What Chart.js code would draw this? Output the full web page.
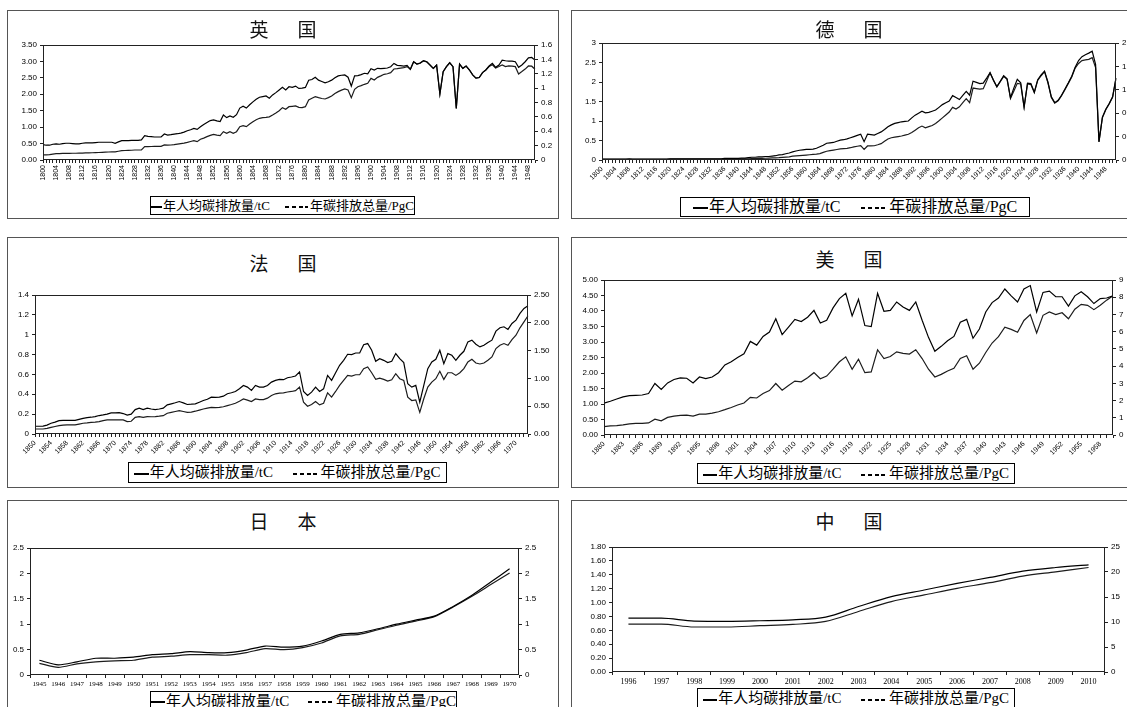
<!DOCTYPE html>
<html>
<head>
<meta charset="utf-8">
<script src="https://cdn.jsdelivr.net/npm/chart.js@4/dist/chart.umd.min.js"></script>
<style>
  html, body { margin: 0; padding: 0; background: #fff; width: 1127px; height: 707px; overflow: hidden; position: relative; }
  .panel { position: absolute; border: 1px solid #555; box-sizing: border-box; background: #fff; }
  .title { position: absolute; transform: translate(-50%, -50%); font-family: "Noto Sans CJK SC", sans-serif; color: #111; white-space: nowrap; letter-spacing: 5px; text-indent: 5px; line-height: 1; }
  .legend { position: absolute; border: 1px solid #000; background: #fff; box-sizing: border-box; display: flex; align-items: center; justify-content: center; white-space: nowrap; font-family: "Liberation Serif", "Noto Sans CJK SC", serif; color: #000; line-height: 1; }
  .legend .ls { display: inline-block; width: 0.95em; height: 2px; background: #000; margin-right: 1px; position: relative; top: 1px; }
  .legend .ld { display: inline-block; width: 26px; height: 2px; margin-right: 2px; position: relative; top: 1px;
                background: repeating-linear-gradient(90deg, #000 0, #000 4px, transparent 4px, transparent 6.8px); }
  .legend .gap { display: inline-block; width: 1.3em; }
  canvas { position: absolute; }
</style>
</head>
<body>
<script>
// ---- series labels ----
const perCapitaLabel = '年人均碳排放量/tC';
const totalLabel = '年碳排放总量/PgC';

function yearsFrom(start, end) {
  const out = [];
  for (let y = start; y <= end; y++) out.push(String(y));
  return out;
}

// ---- 英国 1800–1950 ----
const ukYears = yearsFrom(1800, 1950);
const ukPerCapita = [
  0.47,0.45,0.45,0.48,0.49,0.48,0.50,0.51,0.51,0.50,
  0.49,0.49,0.51,0.52,0.52,0.52,0.53,0.54,0.54,0.54,
  0.54,0.54,0.51,0.55,0.59,0.59,0.59,0.60,0.60,0.60,
  0.61,0.74,0.72,0.71,0.70,0.70,0.70,0.79,0.76,0.77,
  0.79,0.80,0.82,0.85,0.89,0.92,0.96,0.93,1.01,1.08,
  1.14,1.20,1.22,1.19,1.17,1.37,1.29,1.34,1.30,1.38,
  1.58,1.64,1.58,1.68,1.77,1.85,1.91,1.93,1.95,1.88,
  1.98,2.05,2.13,2.21,2.13,2.23,2.21,2.25,2.18,2.19,
  2.21,2.43,2.45,2.52,2.43,2.39,2.35,2.38,2.43,2.50,
  2.56,2.58,2.59,2.52,2.25,2.56,2.57,2.60,2.64,2.62,
  2.78,2.74,2.79,2.78,2.79,2.80,2.84,2.94,2.88,2.87,
  2.86,2.88,2.76,2.99,2.92,2.95,3.02,2.99,2.89,2.79,
  2.89,2.01,2.69,2.84,2.96,2.84,1.57,2.92,2.79,2.86,
  2.74,2.59,2.49,2.51,2.66,2.74,2.86,2.94,2.82,2.89,
  3.04,3.02,3.01,3.01,2.99,2.82,2.89,2.99,3.11,3.12,
  3.04
];
const ukTotal = [
  0.070,0.072,0.074,0.082,0.088,0.090,0.091,0.092,0.093,0.094,
  0.094,0.095,0.097,0.099,0.100,0.101,0.102,0.104,0.107,0.109,
  0.111,0.113,0.114,0.122,0.130,0.132,0.134,0.136,0.139,0.139,
  0.140,0.186,0.187,0.188,0.189,0.190,0.190,0.209,0.206,0.209,
  0.213,0.220,0.228,0.236,0.246,0.258,0.269,0.255,0.288,0.305,
  0.325,0.343,0.357,0.345,0.339,0.394,0.371,0.394,0.371,0.394,
  0.464,0.478,0.464,0.500,0.533,0.560,0.580,0.590,0.594,0.600,
  0.626,0.655,0.686,0.728,0.705,0.742,0.747,0.752,0.733,0.730,
  0.742,0.835,0.860,0.881,0.867,0.856,0.849,0.868,0.891,0.925,
  0.951,0.972,0.988,0.974,0.867,0.983,1.020,1.035,1.053,1.067,
  1.136,1.113,1.150,1.170,1.192,1.200,1.215,1.266,1.271,1.278,
  1.285,1.299,1.262,1.366,1.334,1.348,1.380,1.366,1.320,1.275,
  1.320,0.918,1.229,1.298,1.353,1.298,0.717,1.334,1.275,1.307,
  1.252,1.184,1.138,1.147,1.216,1.252,1.300,1.325,1.280,1.300,
  1.322,1.299,1.310,1.305,1.299,1.197,1.230,1.265,1.308,1.305,
  1.262
];

// ---- 德国 1800–1951 ----
const deYears = yearsFrom(1800, 1951);
const dePerCapita = [
  0.02,0.02,0.02,0.02,0.02,0.02,0.02,0.02,0.03,0.02,
  0.02,0.02,0.02,0.02,0.02,0.02,0.02,0.02,0.02,0.02,
  0.03,0.03,0.03,0.03,0.03,0.03,0.03,0.03,0.03,0.03,
  0.03,0.03,0.03,0.03,0.03,0.03,0.04,0.04,0.04,0.04,
  0.04,0.05,0.05,0.06,0.07,0.07,0.08,0.08,0.09,0.09,
  0.10,0.11,0.13,0.14,0.16,0.18,0.21,0.23,0.25,0.26,
  0.27,0.27,0.28,0.30,0.34,0.38,0.43,0.44,0.45,0.48,
  0.51,0.52,0.54,0.57,0.60,0.63,0.66,0.47,0.66,0.65,
  0.64,0.68,0.72,0.78,0.85,0.90,0.94,0.96,0.98,0.99,
  1.00,1.08,1.15,1.20,1.25,1.21,1.22,1.25,1.28,1.35,
  1.42,1.47,1.51,1.65,1.60,1.55,1.66,1.76,1.66,2.02,
  1.99,1.96,1.97,2.10,2.24,2.05,1.88,2.02,2.16,2.08,
  1.60,1.85,2.07,1.98,1.36,1.97,1.96,1.74,2.06,2.18,
  2.28,2.00,1.62,1.47,1.53,1.66,1.82,1.98,2.15,2.38,
  2.55,2.65,2.70,2.74,2.79,2.45,0.47,1.10,1.30,1.45,
  1.62,2.10
];
const deTotal = [
  0.010,0.010,0.010,0.010,0.010,0.010,0.010,0.010,0.010,0.010,
  0.010,0.010,0.010,0.010,0.010,0.010,0.010,0.010,0.012,0.012,
  0.015,0.015,0.015,0.015,0.015,0.015,0.015,0.015,0.015,0.015,
  0.015,0.015,0.015,0.015,0.016,0.016,0.017,0.017,0.018,0.018,
  0.018,0.020,0.020,0.021,0.023,0.025,0.027,0.029,0.030,0.033,
  0.035,0.038,0.040,0.045,0.050,0.055,0.065,0.070,0.075,0.080,
  0.085,0.090,0.095,0.100,0.110,0.130,0.150,0.160,0.170,0.180,
  0.190,0.195,0.200,0.210,0.225,0.235,0.245,0.180,0.240,0.240,
  0.244,0.260,0.280,0.320,0.360,0.380,0.390,0.400,0.410,0.425,
  0.440,0.470,0.510,0.550,0.580,0.550,0.570,0.590,0.625,0.670,
  0.720,0.770,0.820,0.900,0.870,0.910,0.980,1.050,0.980,1.230,
  1.220,1.210,1.220,1.350,1.490,1.360,1.250,1.340,1.430,1.380,
  1.050,1.180,1.310,1.300,0.900,1.300,1.290,1.150,1.360,1.440,
  1.510,1.320,1.070,0.970,1.010,1.100,1.200,1.310,1.420,1.570,
  1.650,1.700,1.710,1.720,1.750,1.580,0.310,0.720,0.860,0.960,
  1.070,1.400
];

// ---- 法国 1850–1973 ----
const frYears = yearsFrom(1850, 1973);
const frPerCapita = [
  0.078,0.078,0.080,0.090,0.108,0.120,0.135,0.138,0.138,0.138,
  0.138,0.148,0.158,0.165,0.169,0.175,0.186,0.192,0.200,0.213,
  0.213,0.215,0.206,0.190,0.200,0.246,0.260,0.246,0.260,0.252,
  0.246,0.252,0.260,0.293,0.304,0.315,0.327,0.314,0.297,0.300,
  0.304,0.320,0.337,0.350,0.371,0.368,0.371,0.381,0.405,0.415,
  0.428,0.455,0.489,0.472,0.439,0.489,0.472,0.472,0.489,0.523,
  0.540,0.550,0.547,0.567,0.574,0.584,0.625,0.428,0.388,0.422,
  0.472,0.428,0.455,0.590,0.540,0.617,0.692,0.742,0.803,0.800,
  0.816,0.816,0.900,0.911,0.843,0.732,0.759,0.742,0.719,0.732,
  0.810,0.759,0.719,0.506,0.472,0.489,0.320,0.489,0.658,0.725,
  0.752,0.843,0.708,0.810,0.793,0.742,0.793,0.833,0.928,0.945,
  0.904,0.877,0.894,0.921,0.945,1.036,1.070,1.080,1.053,1.113,
  1.147,1.215,1.265,1.292
];
const frTotal = [
  0.090,0.090,0.090,0.100,0.120,0.135,0.150,0.160,0.163,0.163,
  0.163,0.178,0.193,0.200,0.210,0.215,0.223,0.240,0.253,0.255,
  0.253,0.255,0.253,0.223,0.229,0.300,0.313,0.300,0.313,0.310,
  0.313,0.320,0.330,0.373,0.390,0.405,0.420,0.405,0.390,0.395,
  0.410,0.430,0.450,0.465,0.480,0.475,0.480,0.490,0.510,0.530,
  0.554,0.590,0.630,0.610,0.584,0.630,0.620,0.620,0.645,0.693,
  0.723,0.735,0.741,0.755,0.765,0.780,0.843,0.572,0.500,0.530,
  0.584,0.524,0.554,0.741,0.663,0.765,0.873,0.964,1.054,1.042,
  1.066,1.066,1.175,1.205,1.102,0.982,1.006,0.982,0.952,0.976,
  1.084,0.994,0.964,0.663,0.602,0.614,0.390,0.633,0.843,0.934,
  0.994,1.127,0.982,1.102,1.102,1.054,1.102,1.175,1.295,1.343,
  1.277,1.259,1.277,1.325,1.386,1.536,1.596,1.627,1.596,1.699,
  1.777,1.910,2.018,2.127
];

// ---- 美国 1880–1960 ----
const usYears = yearsFrom(1880, 1960);
const usPerCapita = [
  1.03,1.09,1.16,1.23,1.27,1.28,1.29,1.34,1.66,1.47,
  1.68,1.79,1.84,1.83,1.68,1.87,1.82,1.87,2.01,2.26,
  2.36,2.50,2.62,3.02,2.90,3.18,3.32,3.75,3.24,3.48,
  3.73,3.66,3.80,4.02,3.61,3.70,4.10,4.40,4.57,3.84,
  4.38,3.53,3.50,4.57,3.99,4.02,4.29,4.13,4.02,4.29,
  3.70,3.15,2.70,2.86,3.04,3.18,3.64,3.73,3.12,3.42,
  3.97,4.27,4.42,4.71,4.49,4.29,4.71,4.82,3.97,4.60,
  4.64,4.46,4.46,4.16,4.49,4.62,4.46,4.24,4.40,4.42,
  4.49
];
const usTotal = [
  0.49,0.53,0.55,0.59,0.65,0.67,0.67,0.70,0.92,0.82,
  1.02,1.10,1.14,1.15,1.10,1.21,1.21,1.27,1.35,1.47,
  1.60,1.74,1.86,2.19,2.15,2.41,2.58,2.99,2.60,2.88,
  3.13,3.09,3.33,3.62,3.27,3.42,3.82,4.25,4.54,3.82,
  4.40,3.62,3.66,4.95,4.44,4.56,4.83,4.74,4.70,4.95,
  4.44,3.82,3.37,3.52,3.72,3.87,4.44,4.60,3.82,4.17,
  4.79,5.34,5.71,6.26,6.13,5.97,6.65,6.99,5.93,6.95,
  7.14,6.99,7.10,6.75,7.30,7.59,7.53,7.28,7.53,7.83,
  8.08
];

// ---- 日本 1945–1970 ----
const jpYears = yearsFrom(1945, 1970);
const jpPerCapita = [0.29,0.20,0.26,0.33,0.33,0.35,0.40,0.42,0.46,0.44,0.44,0.49,0.57,0.55,0.57,0.67,0.80,0.83,0.91,1.00,1.08,1.16,1.35,1.57,1.83,2.09];
const jpTotal     = [0.23,0.15,0.22,0.26,0.28,0.29,0.35,0.37,0.40,0.40,0.39,0.44,0.52,0.50,0.54,0.63,0.77,0.80,0.89,0.98,1.06,1.15,1.34,1.55,1.78,2.01];

// ---- 中国 1996–2010 ----
const cnYears = yearsFrom(1996, 2010);
const cnPerCapita = [0.776,0.776,0.733,0.729,0.738,0.752,0.790,0.943,1.086,1.181,1.276,1.362,1.452,1.505,1.543];
const cnTotal     = [9.59,9.59,9.00,9.00,9.26,9.52,10.12,12.10,14.09,15.41,16.73,17.86,19.18,20.04,20.90];

// ---- tick formats ----
const fixed2 = v => Number(v).toFixed(2);
const general = v => String(Math.round(Number(v) * 100) / 100);

// ---- panel layout ----
const sansTick = { family: 'Liberation Sans', size: 8 };
const sansTickSmall = { family: 'Liberation Sans', size: 7 };
const serifTick = { family: 'Liberation Serif', size: 8 };

const panels = [
  { title: '英　国', box: [7, 10, 552, 209], plot: [43, 45, 535, 160], titleAt: [283, 28, 19],
    years: ukYears, perCapita: ukPerCapita, total: ukTotal,
    left: { max: 3.5, step: 0.5, fmt: fixed2 }, right: { max: 1.6, step: 0.2, fmt: general },
    xEvery: 4, rot: 90, xFont: sansTickSmall, offset: false, tension: 0,
    legend: [150, 196, 265, 19, 13] },
  { title: '德　国', box: [571, 10, 570, 209], plot: [602, 43, 1116, 160], titleAt: [849, 28, 19],
    years: deYears, perCapita: dePerCapita, total: deTotal,
    left: { max: 3, step: 0.5, fmt: general }, right: { max: 2, step: 0.2, fmt: general },
    xEvery: 4, rot: 45, xFont: sansTickSmall, offset: false, tension: 0,
    legend: [680, 197, 350, 20, 16] },
  { title: '法　国', box: [7, 237, 552, 251], plot: [35, 295, 528, 434], titleAt: [283, 262, 19],
    years: frYears, perCapita: frPerCapita, total: frTotal,
    left: { max: 1.4, step: 0.2, fmt: general }, right: { max: 2.5, step: 0.5, fmt: fixed2 },
    xEvery: 4, rot: 45, xFont: sansTickSmall, offset: false, tension: 0,
    legend: [128, 462, 319, 21, 15] },
  { title: '美　国', box: [571, 237, 570, 251], plot: [604, 280, 1113, 435], titleAt: [849, 258, 19],
    years: usYears, perCapita: usPerCapita, total: usTotal,
    left: { max: 5, step: 0.5, fmt: fixed2 }, right: { max: 9, step: 1, fmt: general },
    xEvery: 3, rot: 45, xFont: sansTickSmall, offset: false, tension: 0,
    legend: [697, 463, 318, 21, 15] },
  { title: '日　本', box: [7, 500, 552, 220], plot: [30, 548, 519, 675], titleAt: [283, 520, 19],
    years: jpYears, perCapita: jpPerCapita, total: jpTotal,
    left: { max: 2.5, step: 0.5, fmt: general }, right: { max: 2.5, step: 0.5, fmt: general },
    xEvery: 1, rot: 0, xFont: { family: 'Liberation Serif', size: 7 }, offset: true, tension: 0.25,
    legend: [150, 691, 307, 20, 15] },
  { title: '中　国', box: [571, 500, 570, 220], plot: [612, 547, 1105, 672], titleAt: [849, 520, 19],
    years: cnYears, perCapita: cnPerCapita, total: cnTotal,
    left: { max: 1.8, step: 0.2, fmt: fixed2 }, right: { max: 25, step: 5, fmt: general },
    xEvery: 1, rot: 0, xFont: serifTick, offset: true, tension: 0.4,
    legend: [697, 688, 318, 21, 15] }
];

// frame around each plot area
const plotFrame = {
  id: 'plotFrame',
  afterDraw(chart) {
    const a = chart.chartArea, ctx = chart.ctx;
    ctx.save();
    ctx.strokeStyle = '#222';
    ctx.lineWidth = 1;
    ctx.strokeRect(Math.round(a.left) + 0.5, Math.round(a.top) + 0.5,
                   Math.round(a.right - a.left) - 1, Math.round(a.bottom - a.top) - 1);
    ctx.restore();
  }
};

function el(tag, cls, css, html) {
  const e = document.createElement(tag);
  if (cls) e.className = cls;
  if (css) e.style.cssText = css;
  if (html !== undefined) e.innerHTML = html;
  document.body.appendChild(e);
  return e;
}

function yScale(pos, spec, width) {
  return {
    position: pos, min: 0, max: spec.max,
    ticks: { stepSize: spec.step, callback: v => spec.fmt(v), font: sansTick, color: '#000', padding: 3 },
    grid: { drawOnChartArea: false, drawTicks: true, tickLength: 3, color: '#222' },
    border: { display: false },
    afterFit(s) { s.width = width; }
  };
}

function buildPanel(p) {
  const [bx, by, bw, bh] = p.box;
  el('div', 'panel', `left:${bx}px;top:${by}px;width:${bw}px;height:${bh}px;`);

  const Lw = 40, Rw = 34, Tp = 8, Xh = 40;
  const [pl, pt, pr, pb] = p.plot;
  const w = pr - pl + Lw + Rw, h = pb - pt + Tp + Xh;
  const cv = el('canvas', '', `left:${pl - Lw}px;top:${pt - Tp}px;width:${w}px;height:${h}px;`);
  cv.width = w; cv.height = h;

  const every = p.xEvery;
  new Chart(cv, {
    type: 'line',
    data: {
      labels: p.years,
      datasets: [
        { label: perCapitaLabel, data: p.perCapita, yAxisID: 'y', borderColor: '#000', borderWidth: 1.2,
          pointRadius: 0, tension: p.tension, cubicInterpolationMode: p.tension > 0.3 ? 'monotone' : 'default', fill: false },
        { label: totalLabel, data: p.total, yAxisID: 'y2', borderColor: '#1c1c1c', borderWidth: 1.2,
          pointRadius: 0, tension: p.tension, cubicInterpolationMode: p.tension > 0.3 ? 'monotone' : 'default', fill: false }
      ]
    },
    options: {
      responsive: false, animation: false, devicePixelRatio: 1,
      layout: { padding: { top: Tp, left: 0, right: 0, bottom: 0 } },
      plugins: { legend: { display: false }, tooltip: { enabled: false }, title: { display: false } },
      scales: {
        x: {
          type: 'category', offset: p.offset,
          grid: { drawOnChartArea: false, drawTicks: true, tickLength: 3, color: '#222', offset: p.offset },
          border: { display: false },
          ticks: {
            autoSkip: false, minRotation: p.rot, maxRotation: p.rot, font: p.xFont, color: '#000', padding: 2,
            callback(v, i) { return i % every === 0 ? this.getLabelForValue(v) : ''; }
          },
          afterFit(s) { s.height = Xh; }
        },
        y: yScale('left', p.left, Lw),
        y2: yScale('right', p.right, Rw)
      }
    },
    plugins: [plotFrame]
  });

  const [tx, ty, tfs] = p.titleAt;
  el('div', 'title', `left:${tx}px;top:${ty}px;font-size:${tfs}px;`, p.title);

  const [lx, ly, lw, lh, lfs] = p.legend;
  el('div', 'legend', `left:${lx}px;top:${ly}px;width:${lw}px;height:${lh}px;font-size:${lfs}px;`,
     `<span class="ls"></span>${perCapitaLabel}<span class="gap"></span><span class="ld"></span>${totalLabel}`);
}

panels.forEach(buildPanel);
</script>
</body>
</html>
